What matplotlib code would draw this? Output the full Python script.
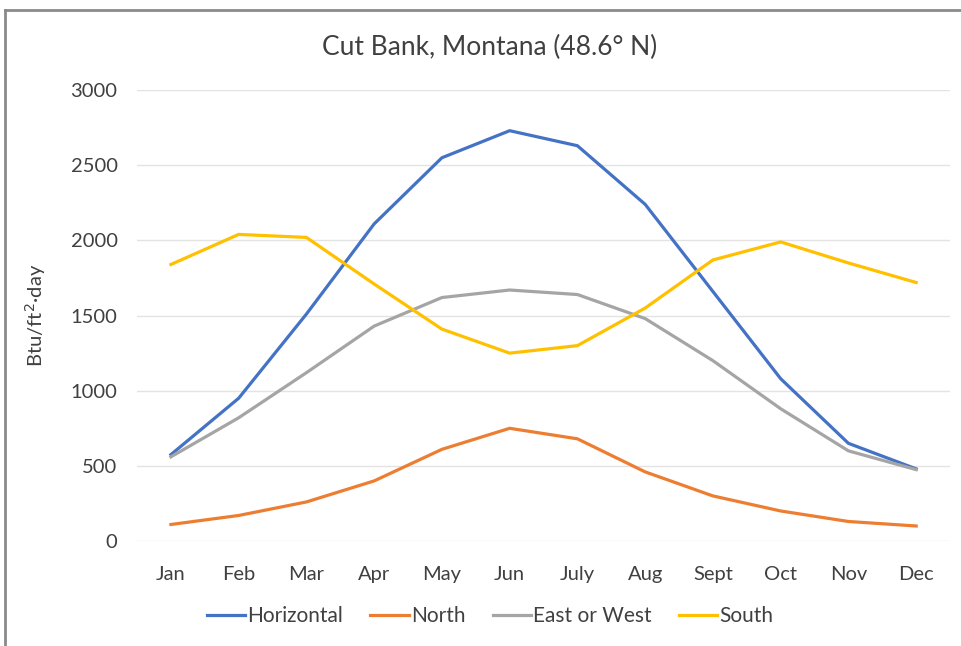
import matplotlib.pyplot as plt
from matplotlib.lines import Line2D

plt.rcParams['font.family'] = ['Lato', 'DejaVu Sans']

months = ['Jan', 'Feb', 'Mar', 'Apr', 'May', 'Jun', 'July', 'Aug', 'Sept', 'Oct', 'Nov', 'Dec']
horizontal = [575, 950, 1510, 2110, 2550, 2730, 2630, 2240, 1660, 1080, 650, 480]
north = [110, 170, 260, 400, 610, 750, 680, 460, 300, 200, 130, 100]
east_west = [560, 820, 1120, 1430, 1620, 1670, 1640, 1480, 1200, 880, 600, 475]
south = [1840, 2040, 2020, 1710, 1410, 1250, 1300, 1550, 1870, 1990, 1850, 1720]
yticks = [0, 500, 1000, 1500, 2000, 2500, 3000]

series = [('Horizontal', horizontal, '#4472C4'),
          ('North', north, '#ED7D31'),
          ('East or West', east_west, '#A5A5A5'),
          ('South', south, '#FFC000')]

fig = plt.figure(figsize=(9.61, 6.46), dpi=100)
ax = fig.add_axes([0.1426, 0.1625, 0.846, 0.698])

x = range(len(months))
for name, vals, col in series:
    ax.plot(x, vals, color=col, lw=2.3, label=name, solid_joinstyle='round')

ax.set_xlim(-0.5, 11.5)
ax.set_ylim(0, 3000)
ax.set_yticks(yticks)
ax.set_xticks(list(x))
ax.set_xticklabels(months)
ax.grid(axis='y', color='#E3E3E3', lw=1)
ax.set_axisbelow(True)
for s in ax.spines.values():
    s.set_visible(False)
ax.tick_params(length=0, labelsize=14.5, colors='#404040')
ax.tick_params(axis='x', pad=18)
ax.tick_params(axis='y', pad=14)
ax.set_ylabel('Btu/ft$^2$·day', fontsize=14.5, color='#404040', labelpad=16)
fig.text(0.51, 1 - 47 / 646, 'Cut Bank, Montana (48.6° N)', fontsize=19,
         color='#404040', ha='center', va='center')

# legend along the bottom
handles = [Line2D([], [], color=c, lw=2.3) for _, _, c in series]
fig.legend(handles, [n for n, _, _ in series], loc='center', bbox_to_anchor=(0.51, 0.046),
           ncol=4, frameon=False, fontsize=15, handlelength=1.85, handletextpad=0.1,
           columnspacing=1.3, labelcolor='#404040')

# chart area border (top and left edges)
fig.add_artist(Line2D([0.0052, 1.0], [1 - 10 / 646, 1 - 10 / 646], color='#8A8A8A', lw=2))
fig.add_artist(Line2D([0.0052, 0.0052], [0.0, 1 - 10 / 646], color='#8A8A8A', lw=2))

fig.savefig('out.png', dpi=100)
